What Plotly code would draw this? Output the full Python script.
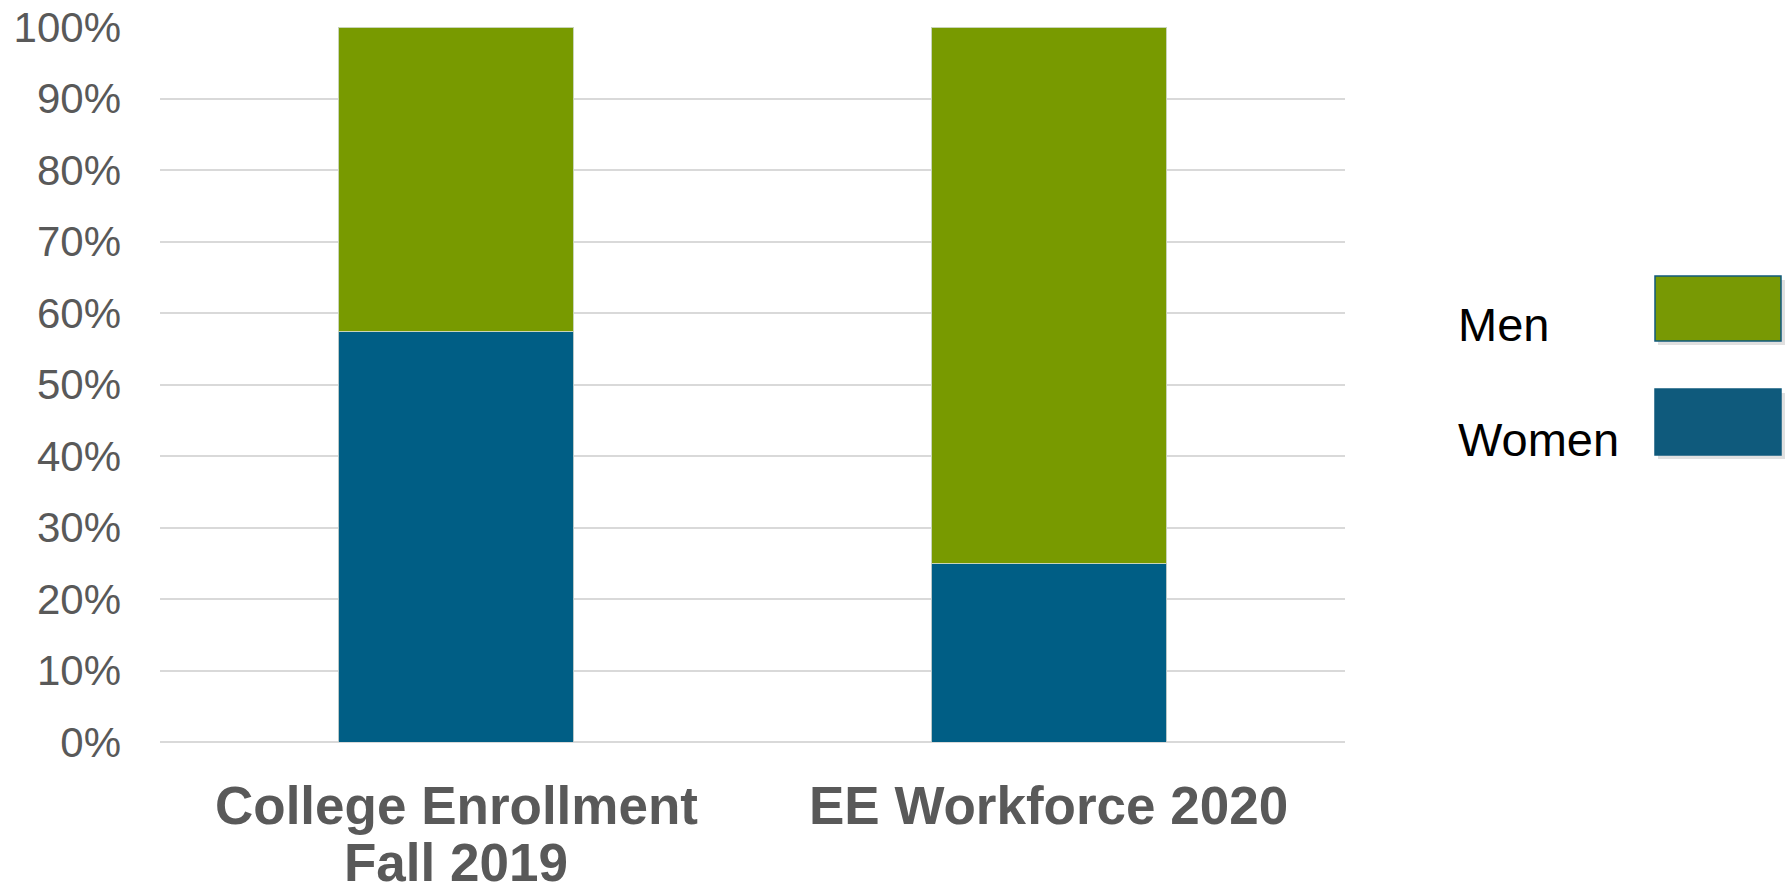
import plotly.graph_objects as go

# Share of women and men, in percent
categories = ["College Enrollment Fall 2019", "EE Workforce 2020"]
category_lines = [["College Enrollment", "Fall 2019"], ["EE Workforce 2020"]]
women = [57.4, 25.0]
men = [42.6, 75.0]
series_names = ["Women", "Men"]

W, H = 1790, 887
PLOT_L, PLOT_R, PLOT_T, PLOT_B = 160, 1345, 27, 742

BLUE = "#005E85"
GREEN = "#789A00"
LEG_BLUE = "#0F5A7C"
LEG_GREEN = "#789904"
TEXT_GRAY = "#595959"
GRID = "#D9D9D9"
FONT = "Liberation Sans, Arial, sans-serif"


def px_x(p):
    return (p - PLOT_L) / (PLOT_R - PLOT_L)


def px_y(p):
    return (PLOT_B - p) / (PLOT_B - PLOT_T)


fig = go.Figure()
fig.add_trace(go.Bar(x=categories, y=women, name=series_names[0],
                     marker=dict(color=BLUE, line=dict(color="#B8C8C8", width=1))))
fig.add_trace(go.Bar(x=categories, y=men, name=series_names[1],
                     marker=dict(color=GREEN, line=dict(color="#C8D4B8", width=1))))

# Category labels, one annotation per line for tight line spacing
annotations = []
for cat, lines in zip(categories, category_lines):
    for i, line in enumerate(lines):
        annotations.append(dict(
            x=cat, xref="x", y=0, yref="paper", yanchor="middle",
            yshift=-63 - 57 * i, text=f"<b>{line}</b>", showarrow=False,
            font=dict(family=FONT, size=53, color=TEXT_GRAY)))

# Legend drawn by hand: label on the left, swatch on the right
shapes = []
legend_items = [(series_names[1], LEG_GREEN, 276, 341, 324),
                (series_names[0], LEG_BLUE, 389, 455, 439)]
for name, color, top, bottom, text_mid in legend_items:
    shapes.append(dict(type="rect", xref="paper", yref="paper",
                       x0=px_x(1658), x1=px_x(1785), y0=px_y(bottom + 4), y1=px_y(top + 4),
                       fillcolor="rgba(0,0,0,0.12)", line=dict(width=0), layer="below"))
    shapes.append(dict(type="rect", xref="paper", yref="paper",
                       x0=px_x(1655), x1=px_x(1781), y0=px_y(bottom), y1=px_y(top),
                       fillcolor=color, line=dict(color="#0F5A7C", width=1.5)))
    annotations.append(dict(x=px_x(1456), y=px_y(text_mid), xref="paper", yref="paper",
                            xanchor="left", yanchor="middle", text=name, showarrow=False,
                            font=dict(family=FONT, size=47, color="#000000")))

fig.update_layout(
    width=W, height=H,
    barmode="stack", bargap=0.603,
    plot_bgcolor="white", paper_bgcolor="white",
    margin=dict(l=PLOT_L, r=W - PLOT_R, t=PLOT_T, b=H - PLOT_B, pad=0, autoexpand=False),
    showlegend=False,
    font=dict(family=FONT, color=TEXT_GRAY),
    xaxis=dict(showticklabels=False, showgrid=False, showline=False, zeroline=False,
               range=[-0.5, 1.5], automargin=False),
    yaxis=dict(range=[0, 100], dtick=10, ticksuffix="%", showgrid=True, gridcolor=GRID,
               gridwidth=1.5, zeroline=True, zerolinecolor=GRID, zerolinewidth=1.5,
               showline=False, ticks="", ticklabelstandoff=38, automargin=False,
               tickfont=dict(family=FONT, size=42, color=TEXT_GRAY)),
    annotations=annotations,
    shapes=shapes,
)

fig.write_html("out.html")
